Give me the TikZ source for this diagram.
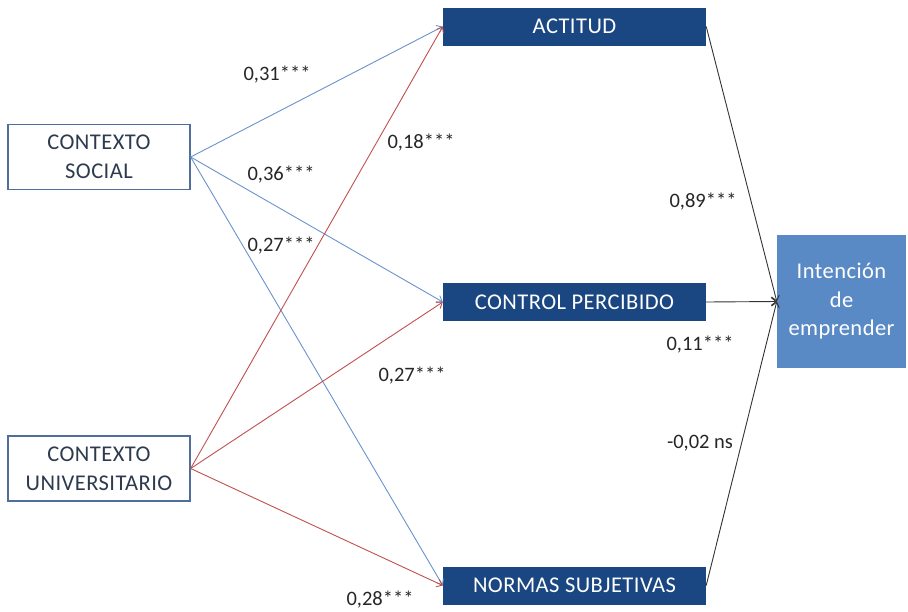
\documentclass[tikz,border=0pt]{standalone}
\usepackage{fontspec}
\setmainfont{Carlito}
\newfontfamily\boxfont[LetterSpace=2]{Carlito}
\usetikzlibrary{arrows.meta, positioning}

\definecolor{navy}{HTML}{1A4781}
\definecolor{goalblue}{HTML}{5A8AC6}
\definecolor{ctxborder}{HTML}{4F6E9A}
\definecolor{ctxtext}{HTML}{2E3B4E}
\definecolor{lineblue}{HTML}{6A93CB}
\definecolor{linered}{HTML}{C0504D}

\tikzset{
  >={Straight Barb[length=5pt,width=8pt]},
  ctx/.style={draw=ctxborder, line width=1.3pt, fill=white, text=ctxtext,
    minimum width=182pt, minimum height=65pt, inner sep=0pt, align=center,
    font=\boxfont\fontsize{22.5}{29}\selectfont},
  var/.style={fill=navy, text=white, minimum width=263pt, minimum height=38pt,
    inner sep=0pt, font=\boxfont\fontsize{22.5}{29}\selectfont},
  goal/.style={fill=goalblue, text=white, minimum width=129pt, minimum height=133pt,
    inner sep=0pt, align=center, font=\boxfont\fontsize{22.5}{28.5}\selectfont},
  coef/.style={text=black!85, inner sep=0pt, font=\fontsize{20.5}{24}\selectfont},
  fromsoc/.style={draw=lineblue, line width=0.9pt, ->},
  fromuni/.style={draw=linered, line width=0.9pt, ->},
  effect/.style={draw=black!80, line width=0.9pt, ->},
}

\begin{document}
\begin{tikzpicture}[x=1pt, y=-1pt]

    \useasboundingbox (0,0) rectangle (908,611);

    \node [ctx] (soc) at (99 , 157) {CONTEXTO\\SOCIAL};
    \node [ctx] (uni) at (99 , 468.5) {CONTEXTO\\UNIVERSITARIO};
    \node [var] (act) at (574.5 , 26.5) {ACTITUD};
    \node [var] (ctl) at (574.5 , 302) {CONTROL PERCIBIDO};
    \node [var] (nor) at (574.5 , 585.5) {NORMAS SUBJETIVAS};
    \node [goal] (int) at (841.5 , 301.5) {Intención\\de\\emprender};

    \node [coef] (c1) at (277 , 75) {0,31***};
    \node [coef] (c2) at (421 , 143) {0,18***};
    \node [coef] (c3) at (281 , 175) {0,36***};
    \node [coef] (c4) at (281 , 246) {0,27***};
    \node [coef] (c5) at (412 , 376) {0,27***};
    \node [coef] (c6) at (380 , 600) {0,28***};
    \node [coef] (c7) at (703 , 202) {0,89***};
    \node [coef] (c8) at (700 , 345) {0,11***};
    \node [coef] (c9) at (700 , 443) {-0,02 ns};

 \path
      (soc.east) edge[fromsoc] (act.west)
      (soc.east) edge[fromsoc] (ctl.west)
      (soc.east) edge[fromsoc] (nor.west)
      (uni.east) edge[fromuni] (act.west)
      (uni.east) edge[fromuni] (ctl.west)
      (uni.east) edge[fromuni] (nor.west)
      (act.east) edge[effect] (int.west)
      (ctl.east) edge[effect] (int.west)
      (nor.east) edge[effect] (int.west);

\end{tikzpicture}
\end{document}
